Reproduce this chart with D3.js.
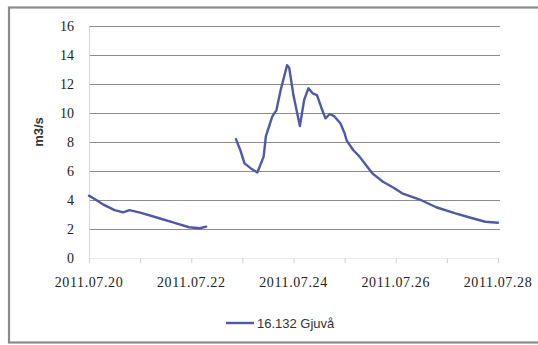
<!DOCTYPE html>
<html>
<head>
<meta charset="utf-8">
<script src="https://d3js.org/d3.v7.min.js"></script>
<style>
  html, body { margin: 0; padding: 0; background: #fff; }
  svg { display: block; }
</style>
</head>
<body>
<script>
// Discharge series for station 16.132 Gjuvå (two recorded segments with a gap)
const seriesName = "16.132 Gjuvå";
const unitLabel = "m3/s";

const seg1Times = ["2011-07-20T00:00","2011-07-20T04:00","2011-07-20T07:00","2011-07-20T12:00",
  "2011-07-20T16:00","2011-07-20T19:00","2011-07-21T00:00","2011-07-21T09:00",
  "2011-07-21T17:00","2011-07-21T23:00","2011-07-22T04:00","2011-07-22T07:00"];
const seg1Values = [4.3, 3.95, 3.66, 3.3, 3.15, 3.3, 3.13, 2.74, 2.39, 2.12, 2.05, 2.16];

const seg2Times = ["2011-07-22T21:00","2011-07-22T23:00","2011-07-23T01:00","2011-07-23T04:00",
  "2011-07-23T07:00","2011-07-23T10:00","2011-07-23T11:00","2011-07-23T14:00",
  "2011-07-23T16:00","2011-07-23T18:00","2011-07-23T21:00","2011-07-23T22:00",
  "2011-07-24T00:00","2011-07-24T03:00","2011-07-24T05:00","2011-07-24T07:00",
  "2011-07-24T09:00","2011-07-24T11:00","2011-07-24T13:00","2011-07-24T15:00",
  "2011-07-24T17:00","2011-07-24T19:00","2011-07-24T22:00","2011-07-25T00:00",
  "2011-07-25T01:00","2011-07-25T04:00","2011-07-25T07:00","2011-07-25T10:00",
  "2011-07-25T13:00","2011-07-25T18:00","2011-07-25T23:00","2011-07-26T03:00",
  "2011-07-26T11:00","2011-07-26T19:00","2011-07-27T04:00","2011-07-27T12:00",
  "2011-07-27T18:00","2011-07-28T00:00"];
const seg2Values = [8.2, 7.45, 6.53, 6.18, 5.9, 6.99, 8.37, 9.75,
  10.2, 11.6, 13.3, 13.1, 11.2, 9.1, 10.9, 11.7,
  11.36, 11.24, 10.4, 9.63, 9.93, 9.79, 9.29, 8.6,
  8.1, 7.45, 6.99, 6.41, 5.84, 5.26, 4.85, 4.46,
  4.05, 3.5, 3.08, 2.74, 2.5, 2.43];

const yTicks = [0, 2, 4, 6, 8, 10, 12, 14, 16];
const xLabelDates = ["2011-07-20","2011-07-22","2011-07-24","2011-07-26","2011-07-28"];
const xTickDates = ["2011-07-20","2011-07-21","2011-07-22","2011-07-23","2011-07-24",
  "2011-07-25","2011-07-26","2011-07-27","2011-07-28"];

const W = 538, H = 345;
const parse = d3.timeParse("%Y-%m-%dT%H:%M");
const parseDay = d3.timeParse("%Y-%m-%d");
const fmt = d3.timeFormat("%Y.%m.%d");

const svg = d3.select("body").append("svg").attr("width", W).attr("height", H);

// chart frame
svg.append("rect").attr("x", 9).attr("y", 7.5).attr("width", 540).attr("height", 335)
  .attr("fill", "#fff").attr("stroke", "#8a8a8a").attr("stroke-width", 2.2);

const x = d3.scaleTime()
  .domain([parseDay("2011-07-20"), parseDay("2011-07-28")])
  .range([89, 498]);
const y = d3.scaleLinear().domain([0, 16]).range([258, 26]);

// horizontal gridlines
svg.append("g").selectAll("line").data(yTicks.filter(d => d > 0)).join("line")
  .attr("x1", 89).attr("x2", 500)
  .attr("y1", d => Math.round(y(d)) + 0.5).attr("y2", d => Math.round(y(d)) + 0.5)
  .attr("stroke", "#8c8c8c").attr("stroke-width", 1);

// value axis
const yAxis = svg.append("g").attr("transform", "translate(89,0)")
  .call(d3.axisLeft(y).tickValues(yTicks).tickSize(0).tickPadding(15));
yAxis.select(".domain").attr("stroke", "#d8d8d8");
yAxis.selectAll("text")
  .attr("font-family", "Liberation Serif, serif").attr("font-size", 14).attr("fill", "#222");

// time axis
const xAxis = svg.append("g").attr("transform", "translate(0,258)")
  .call(d3.axisBottom(x).tickValues(xTickDates.map(parseDay)).tickSize(5).tickFormat(""));
xAxis.select(".domain").attr("stroke", "#eeeeee");
xAxis.selectAll(".tick line").attr("stroke", "#d0d0d0");

svg.append("g").selectAll("text").data(xLabelDates.map(parseDay)).join("text")
  .attr("x", d => x(d)).attr("y", 287)
  .attr("text-anchor", "middle")
  .attr("font-family", "Liberation Serif, serif").attr("font-size", 14)
  .attr("letter-spacing", 0.6).attr("fill", "#222")
  .text(d => fmt(d));

// axis title
svg.append("text")
  .attr("transform", "translate(43,132) rotate(-90)")
  .attr("text-anchor", "middle")
  .attr("font-family", "Liberation Sans, sans-serif").attr("font-size", 13)
  .attr("font-weight", "bold").attr("fill", "#333")
  .text(unitLabel);

// series line
const line = d3.line().x(d => x(d[0])).y(d => y(d[1]));
const seg1 = seg1Times.map((t, i) => [parse(t), seg1Values[i]]);
const seg2 = seg2Times.map((t, i) => [parse(t), seg2Values[i]]);
const lineColor = "#4d5aa8";
svg.append("g").selectAll("path").data([seg1, seg2]).join("path")
  .attr("d", line).attr("fill", "none")
  .attr("stroke", lineColor).attr("stroke-width", 2.4)
  .attr("stroke-linejoin", "round").attr("stroke-linecap", "round");

// legend
svg.append("line").attr("x1", 226).attr("x2", 254).attr("y1", 323).attr("y2", 323)
  .attr("stroke", lineColor).attr("stroke-width", 2.4);
svg.append("text").attr("x", 257).attr("y", 327.5)
  .attr("font-family", "Liberation Sans, sans-serif").attr("font-size", 13)
  .attr("fill", "#333").text(seriesName);
</script>
</body>
</html>
